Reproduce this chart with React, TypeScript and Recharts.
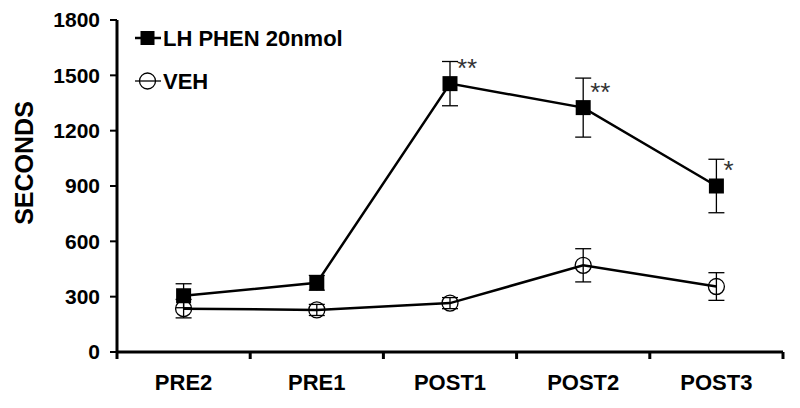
import React from 'react';
import {
  ComposedChart,
  Line,
  XAxis,
  YAxis,
  ErrorBar,
  LabelList,
  Legend,
} from 'recharts';

const categories = ['PRE2', 'PRE1', 'POST1', 'POST2', 'POST3'];
const lhPhen = [305, 375, 1455, 1325, 900];
const lhPhenErr = [65, 40, 120, 160, 145];
const veh = [235, 228, 265, 470, 355];
const vehErr = [50, 30, 30, 90, 75];
const significance = ['', '', '**', '**', '*'];
const yTicks = [0, 300, 600, 900, 1200, 1500, 1800];

const data = categories.map((cat, i) => ({
  cat,
  lh: lhPhen[i],
  lhErr: lhPhenErr[i],
  veh: veh[i],
  vehErr: vehErr[i],
  sig: significance[i],
}));

const FONT = '"Liberation Sans", Arial, sans-serif';
const X_LABEL_GAP = 22;

// filled square marker
const SquareDot = (props: any) => {
  const { cx, cy } = props;
  if (cx == null || cy == null) return null;
  return <rect x={cx - 7.5} y={cy - 7.5} width={15} height={15} fill="#000" />;
};

// open circle marker
const CircleDot = (props: any) => {
  const { cx, cy } = props;
  if (cx == null || cy == null) return null;
  return <circle cx={cx} cy={cy} r={8} fill="none" stroke="#000" strokeWidth={1.3} />;
};

const SigLabel = (props: any) => {
  const { x, y, value } = props;
  if (!value) return null;
  return (
    <text x={x + 7} y={y - 7} fontFamily={FONT} fontSize={26} fill="#333" textAnchor="start">
      {value}
    </text>
  );
};

// category label + tick marks on the category boundaries (Excel style)
const CatTick = (props: any) => {
  const { x, y, payload, index, visibleTicksCount } = props;
  const half = payload?.offset ?? 0;
  const axisY = y - X_LABEL_GAP;
  return (
    <g>
      <line x1={x - half} y1={axisY} x2={x - half} y2={axisY + 7} stroke="#000" strokeWidth={3} />
      {index === visibleTicksCount - 1 && (
        <line x1={x + half} y1={axisY} x2={x + half} y2={axisY + 7} stroke="#000" strokeWidth={3} />
      )}
      <text
        x={x}
        y={y}
        dy="0.71em"
        textAnchor="middle"
        fontFamily={FONT}
        fontWeight="bold"
        fontSize={22}
        fill="#000"
      >
        {payload.value}
      </text>
    </g>
  );
};

const renderLegend = () => (
  <svg width={230} height={70} style={{ overflow: 'visible', display: 'block' }}>
    <line x1={0} y1={16} x2={26} y2={16} stroke="#000" strokeWidth={2.5} />
    <rect x={5.5} y={9} width={14} height={14} fill="#000" />
    <text x={28} y={24} fontFamily={FONT} fontWeight="bold" fontSize={22} fill="#000">
      LH PHEN 20nmol
    </text>
    <line x1={0} y1={59} x2={26} y2={59} stroke="#000" strokeWidth={1.3} />
    <circle cx={12.5} cy={59} r={8} fill="#fff" stroke="#000" strokeWidth={1.3} />
    <line x1={4.5} y1={59} x2={20.5} y2={59} stroke="#000" strokeWidth={1.3} />
    <text x={28} y={67} fontFamily={FONT} fontWeight="bold" fontSize={22} fill="#000">
      VEH
    </text>
  </svg>
);

const YLabel = (props: any) => {
  const { viewBox } = props;
  const cx = 24;
  const cy = viewBox.y + viewBox.height / 2 - 23;
  return (
    <text
      x={cx}
      y={cy}
      transform={`rotate(-90, ${cx}, ${cy})`}
      textAnchor="middle"
      dominantBaseline="central"
      fontFamily={FONT}
      fontWeight="bold"
      fontSize={25}
      fill="#000"
    >
      SECONDS
    </text>
  );
};

export default function App() {
  return (
    <div style={{ position: 'absolute', left: 0, top: 0, background: '#fff' }}>
      <ComposedChart
        width={800}
        height={408}
        data={data}
        margin={{ top: 20, right: 17, bottom: 0, left: 57 }}
      >
        <XAxis
          dataKey="cat"
          scale="band"
          height={56}
          interval={0}
          axisLine={{ stroke: '#000', strokeWidth: 3 }}
          tickLine={false}
          tickSize={0}
          tickMargin={X_LABEL_GAP}
          tick={<CatTick />}
        />
        <YAxis
          width={60}
          domain={[0, 1800]}
          ticks={yTicks}
          interval={0}
          tickSize={7}
          tickMargin={10}
          axisLine={{ stroke: '#000', strokeWidth: 3 }}
          tickLine={{ stroke: '#000', strokeWidth: 2 }}
          tick={{ fontFamily: FONT, fontWeight: 'bold', fontSize: 21, fill: '#000' }}
          label={<YLabel />}
        />
        <Legend
          layout="horizontal"
          verticalAlign="middle"
          align="center"
          content={renderLegend}
          wrapperStyle={{ left: 135, top: 22, width: 230 }}
        />
        <Line
          dataKey="veh"
          stroke="#000"
          strokeWidth={2.5}
          dot={<CircleDot />}
          activeDot={false}
          isAnimationActive={false}
        >
          <ErrorBar dataKey="vehErr" width={8} stroke="#000" strokeWidth={1.3} direction="y" />
        </Line>
        <Line
          dataKey="lh"
          stroke="#000"
          strokeWidth={2.5}
          dot={<SquareDot />}
          activeDot={false}
          isAnimationActive={false}
        >
          <ErrorBar dataKey="lhErr" width={8} stroke="#000" strokeWidth={1.3} direction="y" />
          <LabelList dataKey="sig" content={<SigLabel />} />
        </Line>
      </ComposedChart>
    </div>
  );
}
